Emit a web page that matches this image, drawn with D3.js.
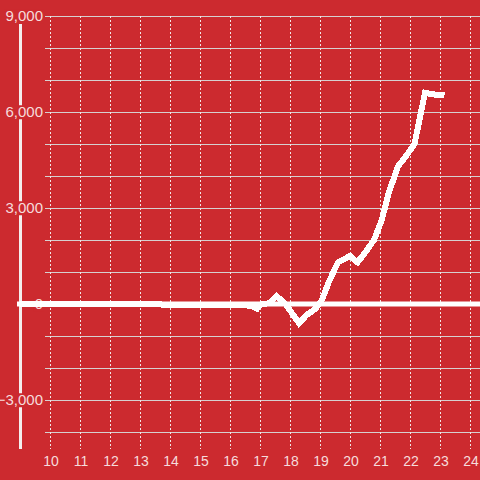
<!DOCTYPE html>
<html>
<head>
<meta charset="utf-8">
<script src="https://cdn.jsdelivr.net/npm/d3@7"></script>
<style>
  html, body { margin: 0; padding: 0; background: #cc2a2f; }
  svg { display: block; }
</style>
</head>
<body>
<div id="chart"></div>
<script>
// data
var hours = [9, 10, 11, 12, 13, 13.6, 13.9, 14.5, 15.5, 16.5, 16.7, 16.9, 17.05, 17.3, 17.55, 17.85, 18.3, 18.55, 18.85, 19.05, 19.3, 19.6, 20.0, 20.25, 20.5, 20.8, 21.05, 21.3, 21.6, 21.85, 22.15, 22.5, 22.75, 23.15];
var values = [0, 0, 0, 0, 0, 0, -40, -40, -40, -40, -60, -150, 0, 20, 250, 0, -600, -350, -150, 100, 700, 1300, 1500, 1300, 1600, 2000, 2600, 3500, 4300, 4600, 5000, 6600, 6550, 6530];
var xTicks = [10, 11, 12, 13, 14, 15, 16, 17, 18, 19, 20, 21, 22, 23, 24];
var yTicks = [9000, 6000, 3000, 0, -3000];

var width = 480,
    height = 480,
    bg = "#cc2a2f",
    textColor = "#f6dcdc";

var x = d3.scaleLinear()
    .domain([9, 9 + 460 / 30])
    .range([20, 480]);

var y = d3.scaleLinear()
    .domain([-4500, 9000])
    .range([448, 16]);

var svg = d3.select("#chart").append("svg")
    .attr("width", width)
    .attr("height", height)
    .style("background", bg);

// horizontal grid, every 1000
var hGrid = d3.range(-4000, 9001, 1000);
svg.append("g").selectAll("line")
    .data(hGrid)
    .enter().append("line")
    .attr("x1", 45)
    .attr("x2", width)
    .attr("y1", function (d) { return Math.round(y(d)) + 0.5; })
    .attr("y2", function (d) { return Math.round(y(d)) + 0.5; })
    .attr("stroke", "#d6d0d0")
    .attr("stroke-width", 1);

// vertical dashed grid
svg.append("g").selectAll("line")
    .data(xTicks)
    .enter().append("line")
    .attr("x1", function (d) { return Math.round(x(d)) + 0.5; })
    .attr("x2", function (d) { return Math.round(x(d)) + 0.5; })
    .attr("y1", y(9000))
    .attr("y2", 449)
    .attr("stroke", "#f2e6e6")
    .attr("stroke-width", 1)
    .attr("stroke-dasharray", "2,2");

// y axis line
svg.append("line")
    .attr("x1", 20.5).attr("x2", 20.5)
    .attr("y1", 24).attr("y2", 449)
    .attr("stroke", "#f4eeee")
    .attr("stroke-width", 3);

// y labels with background boxes so they cut the axis line
var fmt = d3.format(",");
var yLab = svg.append("g").selectAll("g")
    .data(yTicks)
    .enter().append("g")
    .attr("transform", function (d) { return "translate(43," + y(d) + ")"; });

yLab.append("text")
    .attr("text-anchor", "end")
    .attr("dy", "0.35em")
    .attr("fill", textColor)
    .style("font-family", "'Liberation Sans', Arial, sans-serif")
    .style("font-size", "15px")
    .text(function (d) { return fmt(d); })
    .each(function () {
        var b = this.getBBox();
        d3.select(this.parentNode).insert("rect", "text")
            .attr("x", b.x - 1)
            .attr("y", b.y + 2)
            .attr("width", b.width + 2)
            .attr("height", b.height - 3)
            .attr("fill", bg);
    });

// zero line
svg.append("line")
    .attr("x1", 17).attr("x2", width)
    .attr("y1", y(0)).attr("y2", y(0))
    .attr("stroke", "#ffffff")
    .attr("stroke-width", 5);

// x labels
svg.append("g").selectAll("text")
    .data(xTicks)
    .enter().append("text")
    .attr("x", function (d) { return x(d) + 1; })
    .attr("y", 466)
    .attr("text-anchor", "middle")
    .attr("fill", textColor)
    .style("font-family", "'Liberation Sans', Arial, sans-serif")
    .style("font-size", "14px")
    .text(function (d) { return d; });

// the series
var line = d3.line()
    .x(function (d, i) { return x(hours[i]); })
    .y(function (d) { return y(d); });

svg.append("path")
    .datum(values)
    .attr("d", line)
    .attr("fill", "none")
    .attr("stroke", "#ffffff")
    .attr("stroke-width", 6)
    .attr("stroke-linejoin", "miter")
    .attr("shape-rendering", "crispEdges");
</script>
</body>
</html>
